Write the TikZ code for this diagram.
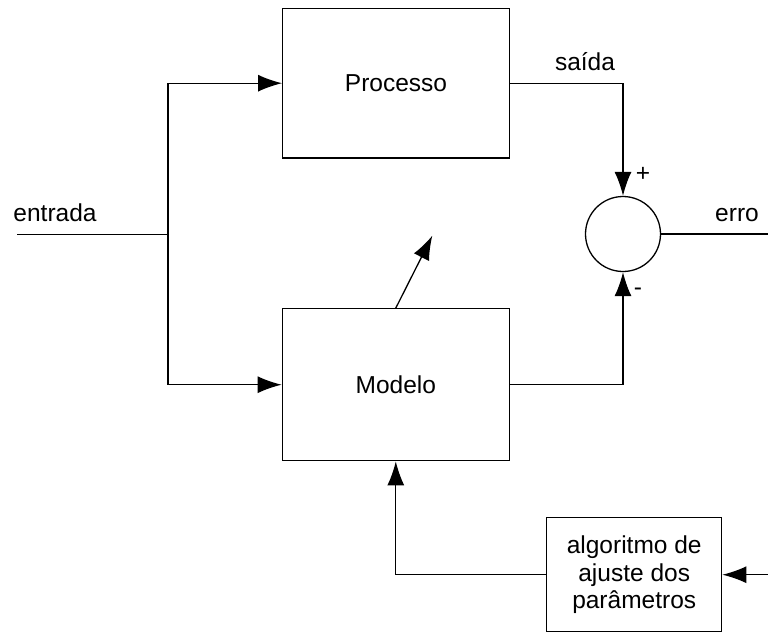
\documentclass[tikz,border=0pt]{standalone}
\usepackage{fontspec}
\setmainfont{Liberation Sans}
\usetikzlibrary{arrows.meta}
\begin{document}
\begin{tikzpicture}[x=1pt,y=-1pt,
  line width=1.3pt,
  every node/.style={font=\fontsize{24.5}{27.5}\selectfont},
  blockbox/.style={draw,rectangle,inner sep=0pt},
  sumcirc/.style={draw,circle,inner sep=0pt,minimum size=75pt},
  lbl/.style={inner sep=0pt,anchor=center},
  arr/.style={-{Latex[length=24pt,width=17pt]}}
]
\useasboundingbox (0,0) rectangle (768,633);
% blocks
\node[blockbox,minimum width=226.6pt,minimum height=149.7pt] (proc) at (396,83.2) {Processo};
\node[blockbox,minimum width=227pt,minimum height=152pt] (mod) at (395.8,384.7) {Modelo};
\node[sumcirc] (sum) at (623,234) {};
\node[blockbox,minimum width=175pt,minimum height=114pt,align=center] (algo) at (634.2,574.7) {algoritmo de\\ajuste dos\\parâmetros};
% coordinates
\coordinate (in) at (17,234.3);
\coordinate (jn) at (168,234.3);
\coordinate (out) at (768,234);
\coordinate (algin) at (768,574.7);
\coordinate (tip) at (432.3,235.7);
% connectors
\draw (in) -- (jn);
\draw[arr] (jn) |- (proc.west);
\draw[arr] (jn) |- (mod.west);
\draw[arr] (proc.east) -| (sum.north);
\draw[arr] (mod.east) -| (sum.south);
\draw (sum.east) -- (out);
\draw[arr] (mod.north) -- (tip);
\draw[arr] (algin) -- (algo.east);
\draw[arr] (algo.west) -| (mod.south);
% labels
\node[lbl] (lin) at (55,213) {entrada};
\node[lbl] (lsai) at (585,62) {saída};
\node[lbl] (lplus) at (643,174) {+};
\node[lbl] (lminus) at (638,292) {-};
\node[lbl] (lerro) at (737,215) {erro};
\end{tikzpicture}
\end{document}
